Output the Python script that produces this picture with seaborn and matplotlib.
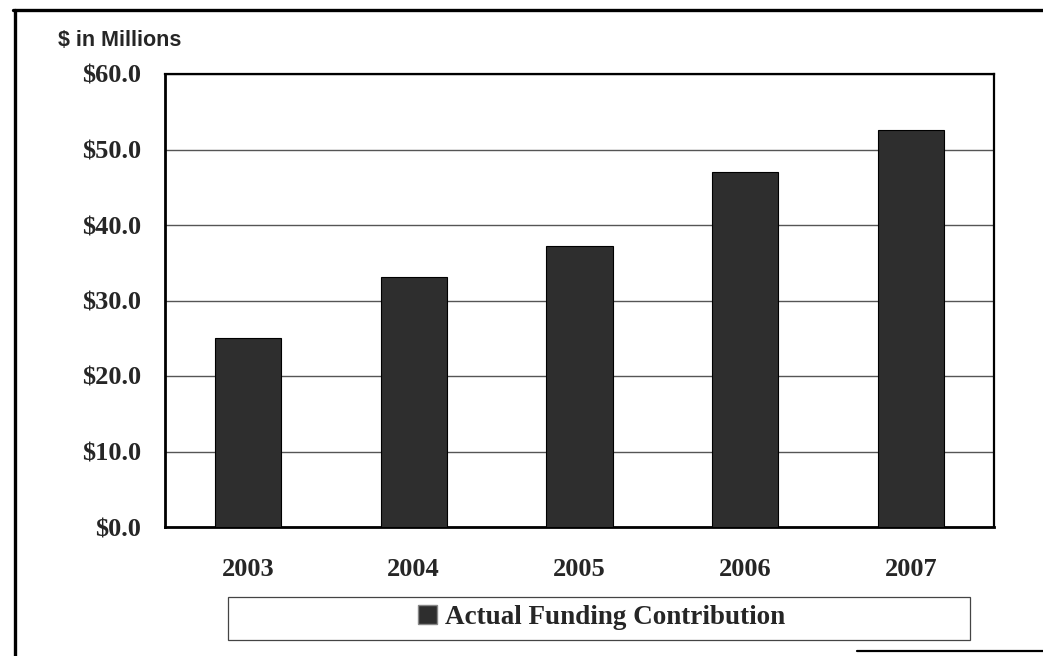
"""Actual funding contribution per year, bar chart."""

import matplotlib

matplotlib.use("Agg")

import pandas as pd
import seaborn as sns
from matplotlib import pyplot as plt
from matplotlib.lines import Line2D
from matplotlib.patches import Patch, Rectangle
from matplotlib.ticker import FixedLocator, MultipleLocator

years = ["2003", "2004", "2005", "2006", "2007"]
funding = [25.0, 33.1, 37.2, 47.0, 52.6]
y_ticks = [0, 10, 20, 30, 40, 50, 60]
y_tick_labels = ["$0.0", "$10.0", "$20.0", "$30.0", "$40.0", "$50.0", "$60.0"]
series_name = "Actual Funding Contribution"

BAR_COLOR = "#2e2e2e"
W, H = 1043, 656

sns.set_style("white")
plt.rcParams["font.family"] = ["Liberation Serif", "DejaVu Serif"]

df = pd.DataFrame({"year": years, "funding": funding})

fig = plt.figure(figsize=(W / 100, H / 100), dpi=100)
ax = fig.add_axes([165 / W, 1 - 527 / H, (994 - 165) / W, (527 - 74) / H])

sns.barplot(data=df, x="year", y="funding", color=BAR_COLOR, width=0.40,
            edgecolor="black", linewidth=0.8, saturation=1, ax=ax, zorder=3)

ax.set_ylim(0, 60)
ax.set_yticks(y_ticks)
ax.set_yticklabels(y_tick_labels, fontsize=19, fontweight="bold")
ax.yaxis.set_minor_locator(MultipleLocator(5))
ax.tick_params(axis="y", which="major", length=0, pad=17)
ax.tick_params(axis="y", which="minor", direction="in", length=3, width=0.8)
ax.grid(axis="y", color="#555555", linewidth=1.0, zorder=0)

ax.set_xticks(range(len(years)))
ax.set_xticklabels(years, fontsize=19, fontweight="bold")
ax.xaxis.set_minor_locator(FixedLocator([0.5, 1.5, 2.5, 3.5]))
ax.tick_params(axis="x", which="major", length=0, pad=22)
ax.tick_params(axis="x", which="minor", direction="in", length=4, width=0.8)
ax.set_xlabel("")
ax.set_ylabel("")

for side in ["left", "bottom"]:
    ax.spines[side].set_linewidth(2.0)
for side in ["top", "right"]:
    ax.spines[side].set_linewidth(1.6)
for spine in ax.spines.values():
    spine.set_color("black")
    spine.set_visible(True)

fig.text(58 / W, 1 - 41 / H, "$ in Millions", fontsize=15.5, fontweight="bold",
         family=["Liberation Sans", "DejaVu Sans"], va="center", ha="left")

# legend box
fig.add_artist(Rectangle((228 / W, 1 - 640 / H), (970 - 228) / W, (640 - 597) / H,
                         transform=fig.transFigure, fill=False, edgecolor="#444444",
                         linewidth=0.9))
fig.legend(handles=[Patch(facecolor=BAR_COLOR, edgecolor="#888888", label=series_name)],
           loc="center", bbox_to_anchor=(602 / W, 1 - 617 / H),
           frameon=False, prop={"size": 19.5, "weight": "bold"},
           handlelength=0.7, handleheight=0.7, handletextpad=0.3)

# outer frame of the scan
fig.add_artist(Line2D([13 / W, 1.0], [1 - 10 / H, 1 - 10 / H], transform=fig.transFigure,
                      color="black", linewidth=2.4))
fig.add_artist(Line2D([15 / W, 15 / W], [1 - 10 / H, 0.0], transform=fig.transFigure,
                      color="black", linewidth=2.4))
fig.add_artist(Line2D([857 / W, 1.0], [1 - 651 / H, 1 - 651 / H], transform=fig.transFigure,
                      color="black", linewidth=1.6))

fig.savefig("out.png", dpi=100)
